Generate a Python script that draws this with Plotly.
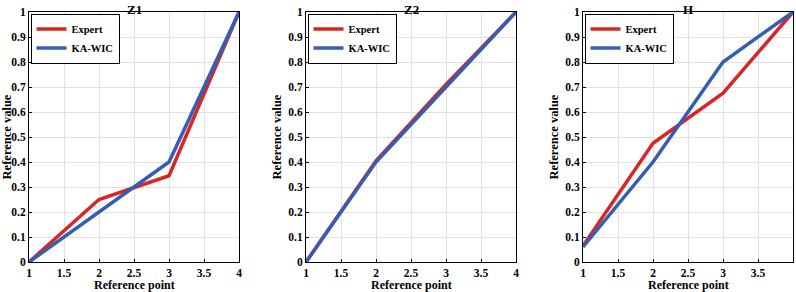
import plotly.graph_objects as go

ref_points = [1, 2, 3, 4]
titles = ["Z1", "Z2", "H"]
expert = {
    "Z1": [0.0, 0.25, 0.345, 1.0],
    "Z2": [0.0, 0.405, 0.71, 1.0],
    "H": [0.065, 0.475, 0.675, 1.0],
}
kawic = {
    "Z1": [0.0, 0.2, 0.4, 1.0],
    "Z2": [0.0, 0.4, 0.7, 1.0],
    "H": [0.06, 0.4, 0.8, 1.0],
}
x_ticks = [1, 1.5, 2, 2.5, 3, 3.5, 4]
x_ticklabels = ["1", "1.5", "2", "2.5", "3", "3.5", "4"]
y_ticks = [0, 0.1, 0.2, 0.3, 0.4, 0.5, 0.6, 0.7, 0.8, 0.9, 1]
y_ticklabels = ["0", "0.1", "0.2", "0.3", "0.4", "0.5", "0.6", "0.7", "0.8", "0.9", "1"]
x_title = "Reference point"
y_title = "Reference value"

RED = "rgb(216,38,38)"
BLUE = "rgb(52,94,178)"
FONT = "Liberation Serif, Times New Roman, DejaVu Serif, serif"

W, H = 796, 292
x_px = [(29, 239), (306, 516), (583, 793)]
y_px = (12, 262)

fig = go.Figure()
layout = dict(
    width=W, height=H,
    margin=dict(l=0, r=0, t=0, b=0, autoexpand=False),
    paper_bgcolor="white", plot_bgcolor="white",
    font=dict(family=FONT, size=12, color="black"),
    showlegend=True,
)
annotations = []
for i, t in enumerate(titles):
    n = "" if i == 0 else str(i + 1)
    xa, ya = "x" + n, "y" + n
    lg = "legend" + n
    fig.add_trace(go.Scatter(x=ref_points, y=expert[t], mode="lines", name="<b>Expert</b>",
                             line=dict(color=RED, width=3.5), xaxis=xa, yaxis=ya, legend=lg))
    fig.add_trace(go.Scatter(x=ref_points, y=kawic[t], mode="lines", name="<b>KA-WIC</b>",
                             line=dict(color=BLUE, width=3.5), xaxis=xa, yaxis=ya, legend=lg))
    x0, x1 = x_px[i]
    dom_x = [x0 / W, x1 / W]
    dom_y = [1 - y_px[1] / H, 1 - y_px[0] / H]
    common = dict(showline=True, linecolor="black", linewidth=1, mirror=True,
                  ticks="inside", ticklen=3, tickcolor="black",
                  showgrid=True, gridcolor="rgb(225,225,225)", gridwidth=1,
                  zeroline=False, automargin=False,
                  tickfont=dict(family=FONT, size=11.5, color="black"))
    layout["xaxis" + n] = dict(domain=dom_x, range=[1, 4], tickvals=x_ticks,
                               ticktext=["<b>" + s + "</b>" for s in x_ticklabels],
                               anchor=ya, ticklabelstandoff=0,
                               **common)
    layout["yaxis" + n] = dict(domain=dom_y, range=[0, 1], tickvals=y_ticks,
                               ticktext=["<b>" + s + "</b>" for s in y_ticklabels],
                               anchor=xa,
                               title=dict(text="<b>" + y_title + "</b>", standoff=3,
                                          font=dict(family=FONT, size=12.5)),
                               **common)
    layout[lg] = dict(x=dom_x[0] + 1.5 / W, y=dom_y[1] - 1.5 / H, xanchor="left", yanchor="top",
                      bgcolor="white", bordercolor="black", borderwidth=1,
                      font=dict(family=FONT, size=10.5, color="black"),
                      tracegroupgap=0, itemwidth=30)
    cx = (dom_x[0] + dom_x[1]) / 2
    annotations.append(dict(text="<b>" + t + "</b>", x=cx, y=1,
                            xref="paper", yref="paper", xanchor="center", yanchor="top",
                            showarrow=False, font=dict(family=FONT, size=13, color="black")))
    annotations.append(dict(text="<b>" + x_title + "</b>", x=cx, y=0, yshift=-2,
                            xref="paper", yref="paper", xanchor="center", yanchor="bottom",
                            showarrow=False, font=dict(family=FONT, size=12, color="black")))
layout["annotations"] = annotations
fig.update_layout(**layout)
fig.write_html("out.html", config={"displayModeBar": False},
               post_script="document.body.style.margin='0';document.body.style.overflow='hidden';")
